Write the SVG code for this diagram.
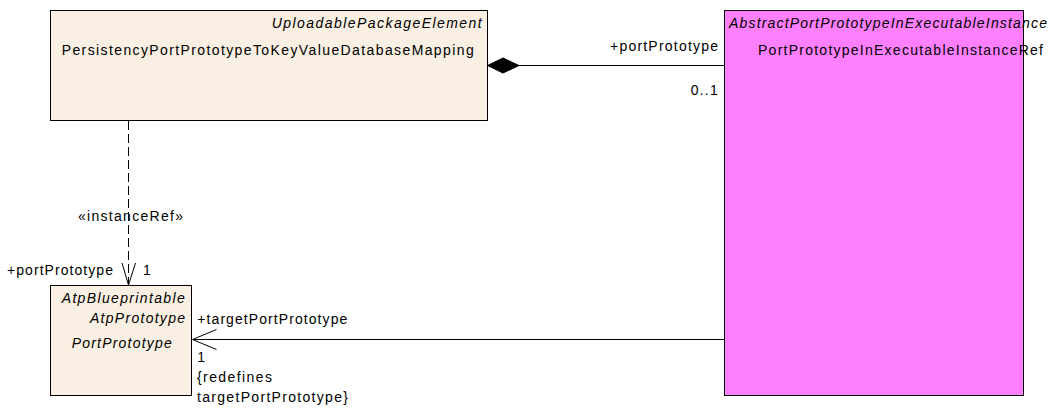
<svg xmlns="http://www.w3.org/2000/svg" width="1052" height="409" viewBox="0 0 1052 409">
<style>
text{font-family:"Liberation Sans",Arial,sans-serif;font-size:14px;fill:#000}
.it{font-style:italic}
.box{stroke:#000;stroke-width:1}
.beige{fill:#F9EFE2}
.mag{fill:#FF80FF}
.ln{stroke:#000;stroke-width:1;fill:none}
</style>
<rect width="1052" height="409" fill="#fff"/>
<g id="node-mapping">
<rect class="box beige" x="50.5" y="10.5" width="437" height="110"/>
<text class="it" x="271.7" y="28" textLength="210" lengthAdjust="spacing">UploadablePackageElement</text>
<text x="61.7" y="55" textLength="412" lengthAdjust="spacing">PersistencyPortPrototypeToKeyValueDatabaseMapping</text>
</g>
<g id="node-instanceref">
<rect class="box mag" x="724.5" y="10.5" width="299" height="385"/>
<text class="it" x="729" y="28" textLength="318" lengthAdjust="spacing">AbstractPortPrototypeInExecutableInstance</text>
<text x="758" y="55" textLength="285" lengthAdjust="spacing">PortPrototypeInExecutableInstanceRef</text>
</g>
<g id="node-portprototype">
<rect class="box beige" x="50.5" y="285.5" width="141" height="110"/>
<text class="it" x="61.7" y="303" textLength="123" lengthAdjust="spacing">AtpBlueprintable</text>
<text class="it" x="90" y="323" textLength="95" lengthAdjust="spacing">AtpPrototype</text>
<text class="it" x="71.7" y="348" textLength="100" lengthAdjust="spacing">PortPrototype</text>
</g>
<g id="connectors">
<line class="ln" x1="519" y1="65.5" x2="724" y2="65.5"/>
<polygon points="487.5,65.5 503,58 519,65.5 503,73" fill="#000" stroke="#000"/>
<text x="610" y="51" textLength="108" lengthAdjust="spacing">+portPrototype</text>
<text x="690.7" y="95" textLength="27" lengthAdjust="spacing">0..1</text>

<line class="ln" x1="128.5" y1="121" x2="128.5" y2="284" stroke-dasharray="9,4"/>
<polyline class="ln" points="122,263 128.5,285 135.5,263"/>
<text x="78" y="221" textLength="105" lengthAdjust="spacing">«instanceRef»</text>
<text x="7" y="275" textLength="106" lengthAdjust="spacing">+portPrototype</text>
<text x="143" y="275">1</text>

<line class="ln" x1="193" y1="339.5" x2="724" y2="339.5"/>
<polyline class="ln" points="216.5,329.5 192.5,339.5 216.5,349.5"/>
<text x="197.3" y="323.5" textLength="150" lengthAdjust="spacing">+targetPortPrototype</text>
<text x="197.3" y="362">1</text>
<text x="197" y="382" textLength="75" lengthAdjust="spacing">{redefines</text>
<text x="197" y="402" textLength="151" lengthAdjust="spacing">targetPortPrototype}</text>
</g>
</svg>
